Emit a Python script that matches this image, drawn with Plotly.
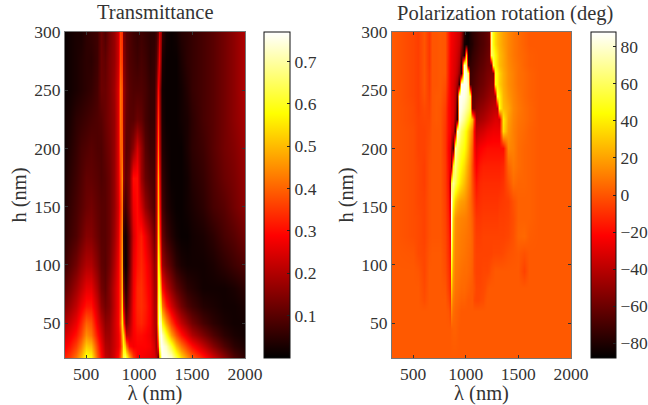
import plotly.graph_objects as go

FONT = "Liberation Serif"
INK = "#333333"

title_left = "Transmittance"
title_right = "Polarization rotation (deg)"
x_label = "λ (nm)"
y_label = "h (nm)"
x_ticks = [500, 1000, 1500, 2000]
y_ticks = [50, 100, 150, 200, 250, 300]
cb_left_ticks = [0.1, 0.2, 0.3, 0.4, 0.5, 0.6, 0.7]
cb_right_ticks = [-80, -60, -40, -20, 0, 20, 40, 60, 80]
t_range = [0.0, 0.77]
r_range = [-88, 88]
r_color_offset = -1

hot = [[0, "#000000"], [0.375, "#ff0000"], [0.75, "#ffff00"], [1, "#ffffff"]]

t_lambda = [300, 350, 400, 450, 500, 550, 600, 640, 680, 720, 760, 800, 820, 835, 850, 865, 880, 900, 940, 980,
            1020, 1060, 1100, 1140, 1160, 1175, 1190, 1205, 1220, 1250, 1300, 1350, 1400, 1450, 1500, 1600, 1700, 1800, 1900, 2000]
t_h = [20, 30, 40, 50, 65, 80, 100, 125, 150, 175, 200, 225, 250, 275, 300]
t_z = [
    [0.33,0.36,0.42,0.50,0.60,0.58,0.40,0.30,0.22,0.20,0.24,0.30,0.38,0.50,0.62,0.66,0.62,0.50,0.36,0.29,0.28,0.27,0.26,0.25,0.22,0.08,0.45,0.70,0.76,0.76,0.74,0.64,0.54,0.46,0.40,0.32,0.24,0.16,0.09,0.05],
    [0.28,0.31,0.36,0.43,0.52,0.50,0.36,0.27,0.20,0.19,0.23,0.27,0.32,0.45,0.58,0.52,0.42,0.30,0.28,0.29,0.29,0.29,0.28,0.24,0.18,0.35,0.65,0.76,0.76,0.72,0.62,0.50,0.42,0.35,0.30,0.22,0.15,0.09,0.05,0.03],
    [0.24,0.27,0.31,0.37,0.45,0.42,0.31,0.24,0.18,0.18,0.23,0.27,0.33,0.50,0.55,0.35,0.22,0.23,0.28,0.30,0.30,0.29,0.27,0.22,0.18,0.48,0.72,0.76,0.72,0.60,0.47,0.38,0.31,0.25,0.20,0.14,0.09,0.05,0.03,0.02],
    [0.20,0.23,0.27,0.33,0.40,0.38,0.27,0.21,0.16,0.17,0.23,0.28,0.38,0.56,0.40,0.18,0.13,0.19,0.28,0.32,0.33,0.31,0.28,0.21,0.20,0.58,0.74,0.70,0.58,0.47,0.36,0.28,0.22,0.17,0.13,0.08,0.05,0.03,0.02,0.02],
    [0.15,0.18,0.22,0.27,0.31,0.31,0.23,0.16,0.13,0.15,0.22,0.28,0.36,0.54,0.25,0.10,0.08,0.16,0.28,0.33,0.34,0.32,0.28,0.20,0.20,0.60,0.68,0.55,0.42,0.32,0.24,0.18,0.13,0.09,0.07,0.04,0.03,0.02,0.02,0.03],
    [0.11,0.14,0.18,0.22,0.26,0.26,0.19,0.13,0.11,0.15,0.22,0.28,0.36,0.50,0.16,0.05,0.05,0.14,0.27,0.33,0.34,0.31,0.27,0.19,0.19,0.58,0.62,0.42,0.30,0.22,0.16,0.11,0.08,0.05,0.04,0.02,0.02,0.02,0.03,0.05],
    [0.07,0.10,0.13,0.17,0.20,0.20,0.15,0.11,0.10,0.13,0.20,0.27,0.36,0.48,0.08,0.01,0.02,0.11,0.26,0.31,0.33,0.30,0.25,0.17,0.20,0.58,0.52,0.28,0.18,0.13,0.09,0.05,0.03,0.02,0.02,0.02,0.03,0.05,0.07,0.09],
    [0.05,0.07,0.09,0.12,0.15,0.15,0.12,0.10,0.10,0.12,0.18,0.25,0.36,0.45,0.06,0.02,0.03,0.10,0.24,0.30,0.32,0.27,0.20,0.13,0.20,0.54,0.42,0.20,0.12,0.07,0.04,0.02,0.01,0.01,0.02,0.03,0.05,0.08,0.10,0.13],
    [0.04,0.06,0.08,0.10,0.12,0.13,0.11,0.10,0.10,0.12,0.17,0.24,0.34,0.43,0.12,0.07,0.08,0.14,0.27,0.30,0.24,0.17,0.12,0.09,0.20,0.50,0.36,0.15,0.08,0.04,0.02,0.01,0.01,0.02,0.03,0.05,0.08,0.10,0.13,0.16],
    [0.03,0.05,0.07,0.09,0.11,0.11,0.10,0.09,0.10,0.12,0.17,0.25,0.36,0.45,0.18,0.11,0.11,0.14,0.30,0.30,0.18,0.12,0.09,0.08,0.20,0.48,0.32,0.12,0.06,0.03,0.01,0.01,0.01,0.02,0.04,0.06,0.09,0.12,0.14,0.17],
    [0.02,0.04,0.06,0.08,0.09,0.10,0.09,0.09,0.11,0.13,0.17,0.25,0.40,0.40,0.18,0.12,0.10,0.11,0.16,0.24,0.17,0.10,0.07,0.07,0.18,0.42,0.26,0.10,0.04,0.02,0.01,0.01,0.01,0.03,0.05,0.07,0.10,0.13,0.15,0.18],
    [0.02,0.03,0.05,0.06,0.07,0.08,0.09,0.10,0.12,0.14,0.17,0.25,0.42,0.38,0.18,0.13,0.11,0.10,0.10,0.12,0.11,0.08,0.06,0.06,0.16,0.36,0.24,0.08,0.03,0.01,0.01,0.01,0.02,0.03,0.05,0.08,0.10,0.13,0.16,0.19],
    [0.01,0.02,0.03,0.04,0.05,0.06,0.08,0.12,0.12,0.14,0.18,0.25,0.42,0.38,0.18,0.14,0.12,0.10,0.09,0.09,0.09,0.08,0.06,0.06,0.13,0.30,0.22,0.07,0.02,0.01,0.01,0.01,0.02,0.04,0.06,0.08,0.10,0.13,0.16,0.20],
    [0.01,0.02,0.03,0.04,0.05,0.05,0.07,0.12,0.11,0.14,0.17,0.23,0.38,0.35,0.16,0.13,0.11,0.09,0.08,0.07,0.08,0.07,0.05,0.06,0.09,0.20,0.28,0.13,0.03,0.01,0.01,0.01,0.03,0.05,0.06,0.08,0.10,0.13,0.16,0.20],
    [0.01,0.02,0.03,0.03,0.05,0.06,0.07,0.12,0.09,0.13,0.17,0.23,0.36,0.34,0.15,0.12,0.10,0.09,0.07,0.06,0.07,0.06,0.05,0.05,0.07,0.12,0.24,0.18,0.06,0.02,0.01,0.02,0.04,0.05,0.06,0.08,0.10,0.13,0.16,0.20],
]

r_lambda = [300, 500, 550, 600, 650, 680, 720, 760, 800, 830, 850, 865, 880, 900, 920, 940, 960, 980, 1000, 1020, 1040, 1060,
            1080, 1100, 1120, 1140, 1160, 1180, 1200, 1220, 1240, 1260, 1280, 1300, 1320, 1350, 1400, 1450, 1500, 1550, 1600, 1700, 2000]
r_h = [20, 45, 60, 70, 80, 95, 110, 125, 140, 155, 170, 185, 200, 215, 225, 235, 245, 255, 265, 272, 280, 290, 300]
r_z = [
    [2,2,2,2,2,2,2,2,2,2,2,2,2,2,2,2,2,2,2,2,2,2,2,2,2,2,2,2,2,2,2,2,2,2,2,2,2,2,2,2,2,2,2],
    [2,2,2,2,2,2,2,2,2,2,2,3,4,4,3,2,2,2,2,2,2,2,2,2,2,2,2,2,2,2,2,2,2,2,2,2,2,2,2,2,2,2,2],
    [2,2,2,2,2,2,2,2,2,1,-3,14,7,5,4,3,2,2,2,2,2,2,2,2,2,2,2,2,2,2,2,2,2,2,2,2,2,2,2,2,2,2,2],
    [2,2,2,-1,2,2,2,2,2,-2,-7,22,10,7,6,5,4,4,3,2,2,2,-2,-3,-3,-2,-1,1,2,2,2,2,2,2,2,2,2,2,2,2,2,2,2],
    [2,2,2,-2,2,2,2,2,1,-5,-10,32,14,9,8,7,6,6,5,4,3,2,0,-3,-3,-3,-2,-1,1,2,2,2,2,2,2,2,2,2,2,2,2,2,2],
    [2,2,1,-3,2,2,2,2,-1,-7,-13,45,18,11,10,9,8,7,7,6,5,3,-2,-4,-4,-4,-3,-3,-3,-2,0,1,2,2,2,2,2,2,2,-4,2,2,2],
    [2,1,-2,-3,1,2,2,2,-2,-9,-16,60,22,13,12,11,10,9,8,7,6,4,-2,-4,-4,-4,-4,-4,-4,-4,-4,-3,-3,-3,-3,-2,0,1,2,0,2,2,2],
    [2,-1,-2,-4,0,1,1,1,-3,-10,-20,72,26,15,13,12,11,10,9,8,7,4,-2,-5,-5,-5,-4,-4,-4,-4,-4,-4,-4,-4,-4,-4,-3,0,5,6,3,2,2],
    [2,-1,-2,-4,0,1,1,1,-4,-12,-25,82,32,18,15,14,13,12,11,9,7,3,-3,-7,-7,-7,-6,-6,-6,-6,-6,-6,-6,-6,-5,-5,-4,-1,4,4,4,2,2],
    [2,-1,-3,-4,0,1,1,1,-5,-14,-32,85,48,32,26,22,20,18,15,11,7,1,-6,-11,-10,-9,-8,-8,-8,-8,-8,-8,-8,-8,-7,-6,-5,0,4,4,4,2,2],
    [2,-1,-3,-5,0,1,1,1,-6,-16,-42,55,72,60,50,42,36,28,22,16,10,0,-9,-16,-13,-11,-10,-10,-10,-10,-10,-10,-10,-10,-10,-8,0,7,5,5,4,2,2],
    [2,-1,-3,-5,0,1,1,1,-6,-18,-26,-55,50,68,58,50,44,36,28,20,12,-1,-14,-22,-18,-15,-13,-13,-13,-13,-13,-13,-13,-13,-13,-11,5,10,7,5,4,2,2],
    [2,-1,-4,-4,-1,1,1,1,-7,-20,-26,-42,-72,75,65,58,52,46,38,28,16,4,-18,-28,-25,-22,-20,-19,-18,-18,-18,-18,-18,-18,-18,-18,14,12,7,5,4,2,2],
    [2,-1,-4,-4,-2,1,1,1,-7,-18,-22,-28,-36,-68,82,72,62,52,44,34,24,12,-20,-38,-36,-34,-32,-30,-28,-27,-26,-25,-25,-25,-25,36,18,12,8,6,4,2,2],
    [2,-2,-4,-3,-3,1,2,1,-6,-18,-22,-26,-30,-48,-76,85,78,68,60,52,42,30,-8,-46,-46,-44,-42,-40,-38,-36,-34,-32,-30,-30,-32,40,20,13,9,7,5,2,2],
    [2,-2,-5,-2,-4,1,2,1,-5,-18,-22,-26,-30,-40,-74,87,85,78,72,66,58,-58,-58,-54,-52,-50,-48,-46,-44,-42,-40,-38,-37,-38,46,28,22,14,10,7,5,2,2],
    [2,-3,-5,0,-5,1,2,2,-3,-16,-22,-26,-30,-38,-62,87,87,85,80,72,60,-64,-62,-60,-58,-56,-54,-52,-50,-48,-46,-45,-44,52,43,26,18,13,9,6,4,2,2],
    [2,-3,-5,1,-6,1,1,2,-1,-14,-22,-26,-30,-36,-46,-76,87,87,85,75,-70,-68,-66,-64,-62,-60,-58,-56,-54,-52,-50,-50,48,43,33,24,16,12,8,6,4,2,2],
    [2,-3,-5,1,-6,1,1,2,1,-13,-22,-25,-28,-32,-38,-50,-78,87,80,60,-72,-70,-68,-66,-64,-62,-60,-58,-56,-55,-54,-54,50,44,34,24,16,12,8,6,4,2,2],
    [2,-3,-5,1,-7,1,1,2,1,-13,-21,-24,-28,-31,-36,-44,-78,80,65,-72,-74,-72,-70,-68,-66,-64,-62,-60,-58,-57,-56,55,44,36,28,22,15,11,8,5,3,2,2],
    [2,-3,-5,1,-7,1,1,2,1,-12,-21,-24,-27,-30,-34,-40,-60,-78,35,-78,-78,-74,-72,-70,-68,-66,-64,-62,-60,-58,60,56,44,36,28,22,14,10,7,5,3,2,2],
    [2,-3,-5,1,-7,1,1,2,1,-12,-20,-23,-26,-29,-32,-36,-50,-82,-84,-84,-80,-78,-74,-72,-70,-68,-66,-64,-62,-60,66,46,36,30,26,20,14,10,7,4,2,2,2],
    [2,-3,-5,1,-7,1,1,2,1,-12,-20,-23,-25,-28,-31,-34,-45,-75,-84,-85,-80,-76,-74,-72,-70,-68,-66,-64,-62,-58,70,46,36,30,26,20,14,10,7,4,2,2,2],
]

for row in t_z:
    assert len(row) == len(t_lambda), len(row)
for row in r_z:
    assert len(row) == len(r_lambda), len(row)

r_shown = [[v + r_color_offset for v in row] for row in r_z]

W, H = 648, 405
TOP, BOTTOM = 32, 358
dom_y = [(H - BOTTOM) / H, (H - TOP) / H]
panels = [(65, 245, 264, 290), (392, 571, 591, 616)]
TICK_SIZE = 17.5
TITLE_SIZE = 20.5


def colorbar(x0, x1, ticks):
    return dict(
        x=x0 / W, xanchor="left", y=dom_y[0], yanchor="bottom",
        thicknessmode="pixels", thickness=x1 - x0,
        lenmode="pixels", len=BOTTOM - TOP,
        xpad=0, ypad=0, outlinecolor="#111111", outlinewidth=1,
        tickvals=ticks, ticks="inside", ticklen=3, tickcolor="#222222", tickwidth=1,
        tickfont=dict(family=FONT, size=TICK_SIZE, color=INK),
    )


fig = go.Figure()
fig.add_trace(go.Heatmap(x=t_lambda, y=t_h, z=t_z, colorscale=hot, zmin=t_range[0], zmax=t_range[1],
                         zsmooth="best", xaxis="x", yaxis="y", hoverinfo="skip",
                         colorbar=colorbar(panels[0][2], panels[0][3], cb_left_ticks)))
fig.add_trace(go.Heatmap(x=r_lambda, y=r_h, z=r_shown, colorscale=hot, zmin=r_range[0], zmax=r_range[1],
                         zsmooth="best", xaxis="x2", yaxis="y2", hoverinfo="skip",
                         colorbar=colorbar(panels[1][2], panels[1][3], cb_right_ticks)))
fig.add_trace(go.Scatter(x=[], y=[], xaxis="x3", yaxis="y3", showlegend=False))
fig.add_trace(go.Scatter(x=[], y=[], xaxis="x4", yaxis="y4", showlegend=False))


def x_axis(a, b, anchor):
    return dict(domain=[a / W, b / W], anchor=anchor, range=[300, 2000], tickvals=x_ticks,
                ticks="inside", ticklen=3, tickcolor=INK, linecolor="#777777", linewidth=1,
                mirror="ticks", showgrid=False, zeroline=False,
                tickfont=dict(family=FONT, size=TICK_SIZE, color=INK),
                title=dict(text=x_label, standoff=2, font=dict(family=FONT, size=TITLE_SIZE, color=INK)))


def y_axis(anchor):
    return dict(domain=dom_y, anchor=anchor, range=[20, 300], tickvals=y_ticks,
                ticks="inside", ticklen=3, tickcolor=INK, linecolor="#777777", linewidth=1,
                mirror="ticks", showgrid=False, zeroline=False,
                tickfont=dict(family=FONT, size=TICK_SIZE, color=INK),
                title=dict(text=y_label, standoff=2, font=dict(family=FONT, size=TITLE_SIZE, color=INK)))


def cb_x(a, b, anchor):
    return dict(domain=[a / W, b / W], anchor=anchor, visible=False, range=[0, 1])


def cb_y(rng, ticks, anchor):
    return dict(domain=dom_y, anchor=anchor, range=rng, tickvals=ticks, ticks="inside", ticklen=3,
                tickcolor="#222222", showticklabels=False, showline=False, showgrid=False, zeroline=False)


fig.update_layout(
    width=W, height=H, autosize=False, paper_bgcolor="white", plot_bgcolor="rgba(0,0,0,0)",
    margin=dict(l=0, r=0, t=0, b=0, autoexpand=False), showlegend=False,
    xaxis=x_axis(panels[0][0], panels[0][1], "y"), yaxis=y_axis("x"),
    xaxis2=x_axis(panels[1][0], panels[1][1], "y2"), yaxis2=y_axis("x2"),
    xaxis3=cb_x(panels[0][2], panels[0][3], "y3"), yaxis3=cb_y(t_range, cb_left_ticks, "x3"),
    xaxis4=cb_x(panels[1][2], panels[1][3], "y4"), yaxis4=cb_y(r_range, cb_right_ticks, "x4"),
    annotations=[
        dict(text=title_left, x=155.5 / W, y=(H - 12) / H, xref="paper", yref="paper",
             showarrow=False, font=dict(family=FONT, size=TITLE_SIZE, color=INK), xanchor="center", yanchor="middle"),
        dict(text=title_right, x=505 / W, y=(H - 13) / H, xref="paper", yref="paper",
             showarrow=False, font=dict(family=FONT, size=TITLE_SIZE, color=INK), xanchor="center", yanchor="middle"),
    ],
)

fig.write_html("out.html", config=dict(displayModeBar=False),
               post_script="document.body.style.margin='0';document.documentElement.style.overflow='hidden';")
